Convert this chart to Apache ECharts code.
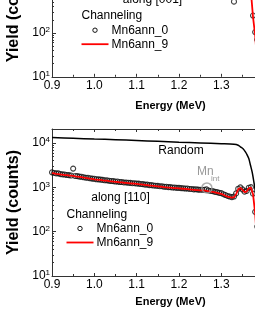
<!DOCTYPE html>
<html><head><meta charset="utf-8">
<script src="https://cdn.jsdelivr.net/npm/echarts@6/dist/echarts.min.js"></script>
<style>html,body{margin:0;padding:0;background:#fff}#c{width:255px;height:330px}</style>
</head><body><div id="c"></div><script>
// Channel energies (MeV)
const energies = [
0.900,0.905,0.910,0.915,0.920,0.925,0.930,0.935,0.940,0.945,
0.950,0.955,0.960,0.965,0.970,0.975,0.980,0.985,0.990,0.995,
1.000,1.005,1.010,1.015,1.020,1.025,1.030,1.035,1.040,1.045,
1.050,1.055,1.060,1.065,1.070,1.075,1.080,1.085,1.090,1.095,
1.100,1.105,1.110,1.115,1.120,1.125,1.130,1.135,1.140,1.145,
1.150,1.155,1.160,1.165,1.170,1.175,1.180,1.185,1.190,1.195,
1.200,1.205,1.210,1.215,1.220,1.225,1.230,1.235,1.240,1.245,
1.250,1.255,1.260,1.265,1.270,1.275,1.280,1.285,1.290,1.295,
1.300,1.305,1.310,1.315,1.320,1.325,1.330,1.335,1.340,1.345,
1.350,1.355,1.360,1.365,1.370,1.375,1.380,1.385];

// Top panel: channeling along [001]
const ch001_Mn6ann_0 = [
1500,1460,1440,1450,1410,1400,1420,1380,1390,1370,
1350,1360,1340,1320,1330,1300,1310,1290,1280,1290,
1270,1260,1250,1250,1230,1220,1230,1200,1210,1190,
1180,1190,1160,1170,1150,1150,1140,1150,1130,1130,
1120,1110,1120,1090,1100,1080,1080,1070,1060,1060,
1040,1050,1030,1030,1010,1020,1000,1000,990,1000,
980,990,990,970,960,950,950,940,930,930,
920,910,920,900,890,880,880,860,850,850,
840,820,800,790,780,780,520,850,920,940,
890,870,880,930,900,250,105,70];
const ch001_Mn6ann_9 = [
1450,1440,1420,1410,1400,1390,1380,1370,1360,1350,
1340,1330,1320,1310,1300,1290,1280,1270,1260,1255,
1250,1240,1230,1220,1210,1200,1195,1185,1180,1170,
1160,1150,1145,1140,1130,1125,1120,1115,1110,1105,
1100,1090,1085,1075,1070,1060,1050,1045,1040,1030,
1020,1015,1010,1000,995,990,985,980,975,970,
965,960,950,945,940,930,925,915,910,900,
895,890,885,880,870,860,850,840,830,825,
820,800,780,770,760,755,770,820,890,910,
870,840,850,900,880,230,90,20];

// Bottom panel: channeling along [110]
const ch110_Mn6ann_0 = [
2180,2110,2060,2070,1990,1960,1950,1900,1890,1850,
2650,1800,1790,1740,1730,1690,1650,1640,1600,1570,
1560,1520,1510,1490,1470,1440,1440,1410,1390,1380,
1350,1350,1320,1320,1290,1290,1270,1260,1240,1240,
1220,1210,1190,1180,1150,1150,1120,1120,1100,1090,
1080,1060,1060,1030,1030,1010,1010,990,990,970,
975,960,955,940,940,920,920,900,905,890,
880,885,880,900,850,830,820,790,780,750,
740,700,670,640,620,600,620,730,930,1000,
900,800,830,980,1010,720,280,130];
const ch110_Mn6ann_9 = [
2090,2060,2020,1990,1950,1930,1890,1880,1850,1830,
1810,1770,1750,1720,1690,1650,1630,1600,1570,1550,
1520,1500,1480,1470,1440,1420,1410,1380,1370,1350,
1330,1320,1300,1290,1270,1260,1250,1230,1220,1210,
1200,1180,1170,1150,1130,1120,1100,1090,1080,1070,
1055,1040,1030,1010,1000,990,980,970,960,955,
950,940,930,920,910,900,890,880,870,865,
855,850,840,830,815,800,790,770,750,730,
710,680,645,620,600,585,600,700,900,970,
880,780,800,950,990,700,260,50];

// Bottom panel: random spectrum
const randomEnergies = [0.90,0.95,1.00,1.05,1.10,1.15,1.20,1.25,1.30,1.33,1.34,1.345,1.352,1.357,1.361,1.365,1.369,1.373,1.377,1.380,1.383,1.386,1.390];
const random110 = [13300,12800,12300,11900,11400,10900,10450,10050,9650,9350,8900,8200,7300,6300,5400,4450,3150,2200,1320,850,400,150,40];

const mnIntPoint = [[1.266, 970]];
const yMajorTicks = [10,100,1000,10000];
const yMinorTicks = [20,30,40,50,60,70,80,90,200,300,400,500,600,700,800,900,2000,3000,4000,5000,6000,7000,8000,9000,20000];

const FONT = '"Liberation Sans", Arial, sans-serif';
const AX = '#333';
function pairs(xs, ys){ return xs.map((x,i)=>[x, ys[i]]); }

function xAx(gi, pos, labels, nameGap){
  return {
    type:'value', gridIndex:gi, position:pos, min:0.9, max:1.46, interval:0.1,
    axisLine:{show:true, onZero:false, lineStyle:{color:AX, width:1}},
    axisTick:{show:true, inside:true, length:3, lineStyle:{color:AX}},
    minorTick:{show:true, splitNumber:2, length:2, lineStyle:{color:AX}},
    splitLine:{show:false},
    axisLabel:{show:labels, margin:3, fontSize:12, color:'#000', fontFamily:FONT,
      formatter:v=>v.toFixed(1)},
    name: labels ? 'Energy (MeV)' : '', nameLocation:'middle', nameGap:nameGap,
    nameTextStyle:{fontSize:11, fontWeight:'bold', color:'#000', fontFamily:FONT}
  };
}
function yAx(gi, max, major){
  if (major) return {
    type:'log', gridIndex:gi, position:'left', min:10, max:max, logBase:10,
    axisLine:{show:true, onZero:false, lineStyle:{color:AX, width:1}},
    axisTick:{show:true, inside:true, length:4, lineStyle:{color:AX}, customValues:yMajorTicks},
    splitLine:{show:false},
    axisLabel:{show:true, margin:2, customValues:yMajorTicks, fontFamily:FONT, color:'#000',
      formatter:v=>{const e=Math.log10(v); if(Math.abs(e-Math.round(e))>1e-6) return ''; return '{b|10}{s|'+Math.round(e)+'}';},
      rich:{b:{fontSize:12, lineHeight:14, fontFamily:FONT, color:'#000'}, s:{fontSize:8, lineHeight:8, verticalAlign:'top', fontFamily:FONT, color:'#000'}}},
    name:'Yield (counts)', nameLocation:'middle', nameGap:30,
    nameTextStyle:{fontSize:16, fontWeight:'bold', color:'#000', fontFamily:FONT}
  };
  return {
    type:'log', gridIndex:gi, position:'left', offset:0, min:10, max:max, logBase:10,
    axisLine:{show:false},
    axisTick:{show:true, inside:true, length:2, lineStyle:{color:AX}, customValues:yMinorTicks},
    splitLine:{show:false}, axisLabel:{show:false}
  };
}

function txt(t, x, y, opts){
  opts = opts || {};
  return {type:'text', x:x, y:y, silent:true, style:{text:t, fill:opts.fill||'#000',
    font:(opts.size||12)+'px '+FONT, align:opts.align||'left', textAlign:opts.align||'left',
    verticalAlign:'middle', textVerticalAlign:'middle'}};
}
function legendBlock(x0, yCh){
  return [
    txt('Channeling', x0, yCh),
    {type:'circle', silent:true, shape:{cx:x0+13.5, cy:yCh+14.2, r:2.2}, style:{fill:'none', stroke:'#111', lineWidth:1}},
    txt('Mn6ann_0', x0+30, yCh+14.2),
    {type:'line', silent:true, shape:{x1:x0, y1:yCh+28.2, x2:x0+27, y2:yCh+28.2}, style:{stroke:'#ff0000', lineWidth:1.8}},
    txt('Mn6ann_9', x0+30, yCh+28.2)
  ];
}

const chart = echarts.init(document.getElementById('c'), null, {renderer:'canvas'});
chart.setOption({
  animation:false,
  backgroundColor:'#fff',
  grid:[
    {left:52, top:-57.6, width:237, height:134.4, containLabel:false, outerBoundsMode:'none'},
    {left:52, top:129, width:237, height:147, containLabel:false, outerBoundsMode:'none'}
  ],
  xAxis:[xAx(0,'bottom',true,24), xAx(0,'top',false,0), xAx(1,'bottom',true,20), xAx(1,'top',false,0)],
  yAxis:[yAx(0,11700,true), yAx(0,11700,false), yAx(1,20700,true), yAx(1,20700,false)],
  series:[
    {name:'Mn6ann_0', type:'scatter', xAxisIndex:0, yAxisIndex:0, data:pairs(energies, ch001_Mn6ann_0),
      symbol:'circle', symbolSize:5, itemStyle:{color:'rgba(0,0,0,0)', borderColor:'#111', borderWidth:1.1}, z:2},
    {name:'Mn6ann_9', type:'line', xAxisIndex:0, yAxisIndex:0, data:pairs(energies, ch001_Mn6ann_9),
      showSymbol:false, symbol:'none', lineStyle:{color:'#ff0000', width:1.8}, z:3},
    {name:'Random', type:'line', xAxisIndex:2, yAxisIndex:2, data:pairs(randomEnergies, random110),
      showSymbol:false, symbol:'none', smooth:0.3, lineStyle:{color:'#000', width:1.5}, z:2},
    {name:'Mn6ann_0', type:'scatter', xAxisIndex:2, yAxisIndex:2, data:pairs(energies, ch110_Mn6ann_0),
      symbol:'circle', symbolSize:5, itemStyle:{color:'rgba(0,0,0,0)', borderColor:'#111', borderWidth:1.1}, z:2},
    {name:'Mn6ann_9', type:'line', xAxisIndex:2, yAxisIndex:2, data:pairs(energies, ch110_Mn6ann_9),
      showSymbol:false, symbol:'none', lineStyle:{color:'#ff0000', width:1.8}, z:3},
    {name:'Mn_int', type:'scatter', xAxisIndex:2, yAxisIndex:2, data:mnIntPoint,
      symbol:'circle', symbolSize:10, itemStyle:{color:'rgba(0,0,0,0)', borderColor:'#999', borderWidth:1.5}, z:4}
  ],
  graphic:[].concat(
    [txt('along [001]', 152.5, -0.5, {align:'center'})],
    legendBlock(81.5, 16),
    [txt('Random', 181, 151, {align:'center'}),
     txt('along [110]', 120.5, 197.3, {align:'center'}),
     txt('Mn', 197, 171.7, {fill:'#999'}),
     txt('int', 211, 178.5, {fill:'#999', size:8})],
    legendBlock(66.5, 214.3)
  )
});
</script></body></html>
